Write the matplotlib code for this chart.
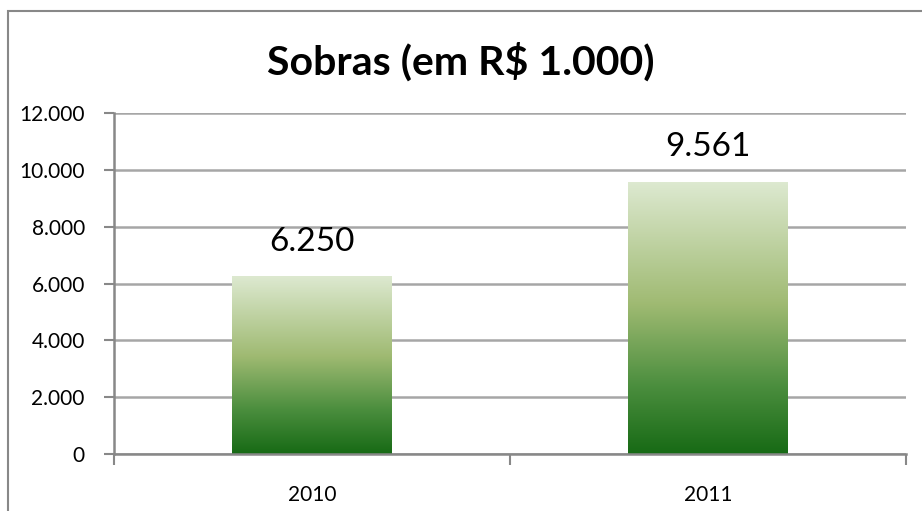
import numpy as np
import matplotlib
matplotlib.use("Agg")
import matplotlib.pyplot as plt
from matplotlib.colors import LinearSegmentedColormap
from matplotlib.patches import Rectangle

plt.rcParams['font.family'] = ['Lato', 'DejaVu Sans']

# data
anos = ['2010', '2011']
sobras = [6250, 9561]
yticks = [0, 2000, 4000, 6000, 8000, 10000, 12000]

def fmt(v):
    return f"{v:,.0f}".replace(",", ".")

green = LinearSegmentedColormap.from_list(
    "verde", [(0.0, '#176a15'), (0.25, '#4b8e3e'), (0.55, '#9fba72'), (1.0, '#dde9d0')])

fig = plt.figure(figsize=(9.22, 5.11), dpi=100)
ax = fig.add_axes([114/922, 1 - 454/511, (906 - 114)/922, (454 - 113)/511])

x = np.arange(len(anos))
w = 0.404
grad = np.linspace(0, 1, 256).reshape(-1, 1)
for xi, v in zip(x, sobras):
    ax.imshow(grad, extent=[xi - w/2, xi + w/2, 0, v], origin='lower',
              aspect='auto', cmap=green, zorder=2)
    ax.text(xi, v + 700, fmt(v), ha='center', va='bottom', fontsize=24, color='black')

ax.set_xlim(-0.5, 1.5)
ax.set_ylim(0, 12000)
ax.set_yticks(yticks)
ax.set_yticklabels([fmt(t) for t in yticks], fontsize=15)
ax.set_xticks(x)
ax.set_xticklabels(anos, fontsize=15)
ax.set_xticks([-0.5, 0.5, 1.5], minor=True)
ax.tick_params(axis='x', which='major', length=0, pad=22)
ax.tick_params(axis='x', which='minor', length=8, width=1.5, color='#888888', direction='out')
ax.tick_params(axis='y', length=7, width=1.5, color='#888888', pad=14)

ax.grid(axis='y', color='#a6a6a6', linewidth=1.8, zorder=0)
ax.set_axisbelow(True)
for s in ['top', 'right']:
    ax.spines[s].set_visible(False)
for s in ['left', 'bottom']:
    ax.spines[s].set_color('#888888')
    ax.spines[s].set_linewidth(1.8)

fig.text(0.5, 1 - 62/511, 'Sobras (em R$ 1.000)', ha='center', va='center',
         fontsize=29.5, fontweight='bold')

# moldura do grafico
fig.patches.append(Rectangle((8/922, -0.2), 1.5, 1.2 - 11/511, transform=fig.transFigure,
                             fill=False, edgecolor='#888888', linewidth=1.5))

fig.savefig('out.png', dpi=100)
